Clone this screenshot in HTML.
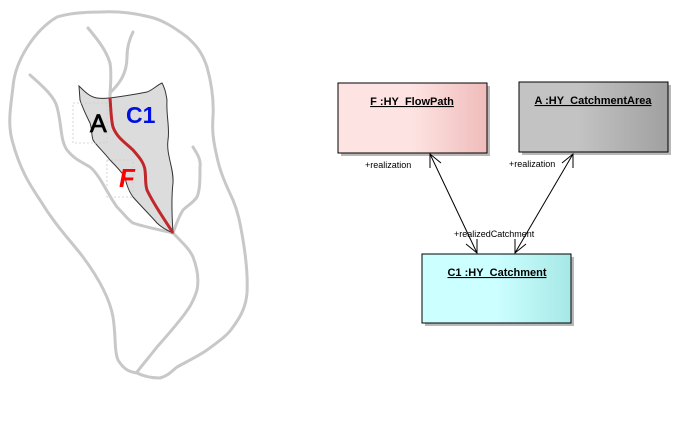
<!DOCTYPE html>
<html><head><meta charset="utf-8"><style>
body{margin:0;background:#fff;width:678px;height:435px;overflow:hidden;font-family:"Liberation Sans",sans-serif}
svg{display:block}
</style></head><body>
<svg width="678" height="435" viewBox="0 0 678 435">
<defs>
<linearGradient id="gF" x1="0" x2="1"><stop offset="0.5" stop-color="#fde3e2"/><stop offset="1" stop-color="#efbcba"/></linearGradient>
<linearGradient id="gA" x1="0" x2="1"><stop offset="0.4" stop-color="#c3c3c3"/><stop offset="1" stop-color="#a0a0a0"/></linearGradient>
<linearGradient id="gC" x1="0" x2="1"><stop offset="0.5" stop-color="#ccffff"/><stop offset="1" stop-color="#a6e8e6"/></linearGradient>
</defs>
<g fill="none" stroke="#c8c8c8" stroke-width="3" stroke-linecap="round" stroke-linejoin="round">
<path d="M57,17 C35,30 15,60 13,87 C10,110 8,125 12,140 C20,170 30,185 40,200 C55,225 70,240 83,257 C100,280 110,300 113,317 C116,335 114,350 118,360 C124,370 130,372 137,373 C145,377 152,378 160,378 C168,376 172,371 177,367 C190,360 200,355 207,350 C218,342 228,335 233,327 C242,315 246,305 247,293 C248,275 246,258 243,240 C240,222 238,212 233,200 C226,185 220,172 217,157 C213,140 212,130 213,117 C214,100 212,85 207,67 C202,52 196,45 187,37 C175,28 163,20 150,17 C130,12 115,11 100,12 C85,12 70,13 57,17 Z"/>
<path d="M30,75 C45,88 55,98 57,107 C62,125 60,140 67,150 C75,160 82,162 90,167 C100,175 108,195 117,207 C125,215 128,220 133,223 C148,228 162,230 173,233"/>
<path d="M193,147 C198,155 201,160 200,167 C200,180 200,190 197,197 C193,203 188,205 183,210 C178,218 176,225 173,233"/>
<path d="M173,233 C183,243 190,250 193,257 C198,270 199,280 197,290 C193,303 188,310 180,320 C172,330 165,338 157,347 C150,356 143,364 137,372"/>
<path d="M88,28 C98,40 106,50 110,63 C112,75 110,88 110,98"/>
<path d="M133,32 C129,40 127,48 127,57 C127,75 118,85 110,93"/>
</g>
<path d="M79,86 C85,92 90,97 97,98 C103,99 106,98 110,98 C125,96 137,94 147,92 C153,90 157,85 162,83 C166,90 166,95 167,100 C166,115 170,128 168,140 C166,155 174,168 173,183 C171,200 172,218 173,233 C166,230 161,227 157,223 C150,215 140,205 133,197 C128,190 126,183 125,177 C120,170 115,165 110,160 C102,150 96,145 93,140 C91,133 92,128 90,123 C85,113 82,106 80,100 Z" fill="#dcdcdd" stroke="#333" stroke-width="1"/>
<rect x="73" y="103" width="34" height="40" fill="none" stroke="#ccc" stroke-dasharray="2,2" stroke-width="0.8"/>
<rect x="107" y="160" width="26" height="37" fill="none" stroke="#ccc" stroke-dasharray="2,2" stroke-width="0.8"/>
<path d="M110,98 C111,110 111,120 113,127 C117,138 126,143 133,150 C140,158 144,163 145,170 C146,178 145,184 147,190 C154,205 165,220 173,233" fill="none" stroke="#c0282a" stroke-width="3"/>
<text x="90" y="132" font-size="25" fill="#000" stroke="#000" stroke-width="0.8">A</text>
<text x="126" y="123" font-size="23" font-weight="bold" fill="#0010e0">C1</text>
<text x="119" y="187" font-size="26" font-style="italic" font-weight="bold" fill="#ff0000">F</text>

<g font-size="11">
<g>
<rect x="341" y="86" width="149" height="70" fill="#b8b8b8"/>
<rect x="338" y="83" width="149" height="70" fill="url(#gF)" stroke="#000" stroke-width="1"/>
<text x="412" y="105" text-anchor="middle" font-weight="bold" text-decoration="underline">F :HY_FlowPath</text>
</g>
<g>
<rect x="522" y="85" width="149" height="70" fill="#b8b8b8"/>
<rect x="519" y="82" width="149" height="70" fill="url(#gA)" stroke="#000" stroke-width="1"/>
<text x="593" y="104" text-anchor="middle" font-weight="bold" text-decoration="underline">A :HY_CatchmentArea</text>
</g>
<g>
<rect x="425" y="257" width="149" height="69" fill="#b8b8b8"/>
<rect x="422" y="254" width="149" height="69" fill="url(#gC)" stroke="#000" stroke-width="1"/>
<text x="497" y="276" text-anchor="middle" font-weight="bold" text-decoration="underline">C1 :HY_Catchment</text>
</g>
<g fill="none" stroke="#000" stroke-width="1">
<line x1="430" y1="154" x2="477" y2="253"/>
<polyline points="430,168 430,154 441,163"/>
<polyline points="466,244 477,253 477,239"/>
</g>
<g fill="none" stroke="#000" stroke-width="1">
<line x1="573" y1="154" x2="515" y2="253"/>
<polyline points="562,163 573,154 573,168"/>
<polyline points="515,239 515,253 526,244"/>
</g>
<text x="365" y="168" font-size="9">+realization</text>
<text x="509" y="167" font-size="9">+realization</text>
<text x="454" y="237" font-size="9">+realizedCatchment</text>
</g>
</svg>
</body></html>
